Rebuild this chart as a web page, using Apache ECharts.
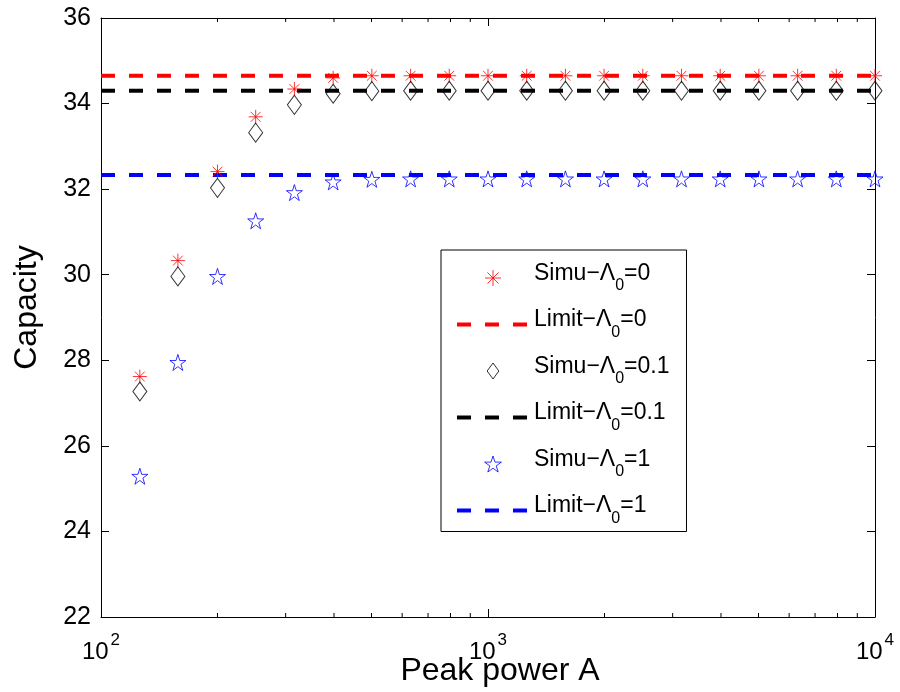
<!DOCTYPE html>
<html>
<head>
<meta charset="utf-8">
<script src="https://cdn.jsdelivr.net/npm/echarts@6/dist/echarts.min.js"></script>
<style>html,body{margin:0;padding:0;background:#fff}#c{width:900px;height:692px}</style>
</head>
<body>
<div id="c"></div>
<script>
// ---- data ----
var peakPower = [126, 158, 200, 251, 316, 398, 501, 631, 794, 1000, 1259, 1585, 1995, 2512, 3162, 3981, 5012, 6310, 7943, 10000];
var simu0   = [27.62, 30.33, 32.41, 33.69, 34.34, 34.60, 34.65, 34.65, 34.65, 34.65, 34.65, 34.65, 34.65, 34.65, 34.65, 34.65, 34.65, 34.65, 34.65, 34.65];
var simu01  = [27.27, 29.96, 32.03, 33.32, 33.97, 34.23, 34.29, 34.30, 34.30, 34.30, 34.30, 34.30, 34.30, 34.30, 34.30, 34.30, 34.30, 34.30, 34.30, 34.30];
var simu1   = [25.29, 27.95, 29.96, 31.26, 31.92, 32.17, 32.23, 32.24, 32.24, 32.24, 32.24, 32.24, 32.24, 32.24, 32.24, 32.24, 32.24, 32.24, 32.24, 32.24];
var limit0  = 34.65;
var limit01 = 34.30;
var limit1  = 32.33;
var xRange = [100, 10000];
var yRange = [22, 36];
var yTickStep = 2;
var minorTicks = [200, 300, 400, 500, 600, 700, 800, 900, 2000, 3000, 4000, 5000, 6000, 7000, 8000, 9000];
var names = ['Simu−Λ0=0', 'Limit−Λ0=0', 'Simu−Λ0=0.1', 'Limit−Λ0=0.1', 'Simu−Λ0=1', 'Limit−Λ0=1'];

// ---- helpers ----
function pairs(xs, ys) { return xs.map(function (x, i) { return [x, ys[i]]; }); }
function flat(v) { return xRange.map(function (x) { return [x, v]; }); }

var FONT = "'Liberation Sans', Arial, sans-serif";
var ASTERISK = 'path://M0 -10 L0 10 M-10 0 L10 0 M-7 -7 L7 7 M-7 7 L7 -7';
var STAR = 'path://M0 -100 L22.45 -30.9 L95.1 -30.9 L36.3 11.8 L58.8 80.9 L0 38.2 L-58.8 80.9 L-36.3 11.8 L-95.1 -30.9 L-22.45 -30.9 Z';
var DIAMOND = 'path://M0 -13 L9.5 0 L0 13 L-9.5 0 Z';
var DASH = [14, 14];

function scatter(name, data, symbol, size, color) {
  return {
    type: 'scatter', name: name, data: data, symbol: symbol, symbolSize: size,
    symbolKeepAspect: false,
    itemStyle: { color: 'none', borderColor: color, borderWidth: 1 },
    emphasis: { disabled: true }, z: 3
  };
}
function limitLine(name, v, color) {
  return {
    type: 'line', name: name, data: flat(v), symbol: 'none', showSymbol: false,
    lineStyle: { color: color, width: 4, type: DASH },
    itemStyle: { color: color },
    emphasis: { disabled: true }, z: 2
  };
}
function lineLegend(name, color) {
  return { name: name, lineStyle: { color: color, width: 4, type: DASH },
           itemStyle: { color: 'none', borderColor: 'none', borderWidth: 0, opacity: 0 } };
}

var chart = echarts.init(document.getElementById('c'), null, { renderer: 'canvas' });
var tickStyle = { color: '#000', width: 1 };
var option = {
  animation: false,
  backgroundColor: '#fff',
  textStyle: { fontFamily: FONT },
  grid: { left: 101, right: 25, top: 18, bottom: 75, containLabel: false, outerBoundsMode: 'none' },
  xAxis: [{
    type: 'log', logBase: 10, min: xRange[0], max: xRange[1],
    name: 'Peak power A', nameLocation: 'middle', nameGap: 38, nameMoveOverlap: false,
    nameTextStyle: { fontSize: 32, color: '#000', fontFamily: FONT, padding: [0, 0, 0, 24] },
    axisLine: { show: true, lineStyle: { color: '#000', width: 1 } },
    axisTick: { show: true, inside: true, length: 8, lineStyle: tickStyle },
    splitLine: { show: false },
    axisLabel: {
      margin: 15, color: '#000', fontFamily: FONT,
      formatter: function (v) { return '{b|10}{s|' + Math.round(Math.log10(v)) + '}'; },
      rich: {
        b: { fontSize: 24, fontFamily: FONT, color: '#000', verticalAlign: 'bottom' },
        s: { fontSize: 17, fontFamily: FONT, color: '#000', verticalAlign: 'bottom', padding: [0, 0, 15, 2] }
      }
    }
  }, {
    type: 'log', logBase: 10, min: xRange[0], max: xRange[1], position: 'top',
    axisLine: { show: true, lineStyle: { color: '#000', width: 1 } },
    axisTick: { show: true, inside: true, length: 8, lineStyle: tickStyle },
    axisLabel: { show: false }, splitLine: { show: false }
  }],
  yAxis: [{
    type: 'value', min: yRange[0], max: yRange[1], interval: yTickStep,
    name: 'Capacity', nameLocation: 'middle', nameGap: 58, nameMoveOverlap: false,
    nameTextStyle: { fontSize: 32, color: '#000', fontFamily: FONT, padding: [0, 0, 0, 20] },
    axisLine: { show: true, lineStyle: { color: '#000', width: 1 } },
    axisTick: { show: true, inside: true, length: 8, lineStyle: tickStyle },
    splitLine: { show: false },
    axisLabel: { fontSize: 25, color: '#000', margin: 10, fontFamily: FONT }
  }, {
    type: 'value', min: yRange[0], max: yRange[1], interval: yTickStep, position: 'right',
    axisLine: { show: true, lineStyle: { color: '#000', width: 1 } },
    axisTick: { show: true, inside: true, length: 8, lineStyle: tickStyle },
    axisLabel: { show: false }, splitLine: { show: false }
  }],
  legend: {
    orient: 'vertical', left: 441, top: 250,
    padding: [12, 17, 5, 14], itemGap: 14.5,
    itemWidth: 72, itemHeight: 16,
    backgroundColor: '#fff', borderColor: '#000', borderWidth: 1, borderRadius: 0,
    selectedMode: false, z: 10,
    data: [
      { name: names[0], icon: ASTERISK, itemStyle: { color: 'none', borderColor: 'red', borderWidth: 1 } },
      lineLegend(names[1], 'red'),
      { name: names[2], icon: DIAMOND, itemStyle: { color: 'none', borderColor: '#000', borderWidth: 1 } },
      lineLegend(names[3], '#000'),
      { name: names[4], icon: STAR, itemStyle: { color: 'none', borderColor: 'blue', borderWidth: 1 } },
      lineLegend(names[5], 'blue')
    ],
    formatter: function (n) {
      var parts = n.split('Λ0');
      return '{m|' + parts[0] + 'Λ}{s|0}{m|' + parts[1] + '}';
    },
    textStyle: {
      color: '#000', fontFamily: FONT,
      rich: {
        m: { fontSize: 23, fontFamily: FONT, color: '#000', verticalAlign: 'bottom', padding: [0, 0, 9, 0] },
        s: { fontSize: 16, fontFamily: FONT, color: '#000', verticalAlign: 'bottom' }
      }
    }
  },
  series: [
    scatter(names[0], pairs(peakPower, simu0), ASTERISK, 14, 'red'),
    limitLine(names[1], limit0, 'red'),
    scatter(names[2], pairs(peakPower, simu01), DIAMOND, [14, 19], '#000'),
    limitLine(names[3], limit01, '#000'),
    scatter(names[4], pairs(peakPower, simu1), STAR, 16, 'blue'),
    limitLine(names[5], limit1, 'blue'),
    {
      type: 'custom', name: 'minorTicks', silent: true, z: 1,
      data: minorTicks.map(function (v) { return [v, yRange[0]]; }),
      renderItem: function (params, api) {
        var x = api.value(0);
        var pb = api.coord([x, yRange[0]]);
        var pt = api.coord([x, yRange[1]]);
        return {
          type: 'group', children: [
            { type: 'line', shape: { x1: pb[0], y1: pb[1], x2: pb[0], y2: pb[1] - 4 }, style: { stroke: '#000', lineWidth: 1 } },
            { type: 'line', shape: { x1: pt[0], y1: pt[1], x2: pt[0], y2: pt[1] + 4 }, style: { stroke: '#000', lineWidth: 1 } }
          ]
        };
      }
    }
  ]
};
chart.setOption(option);
</script>
</body>
</html>
